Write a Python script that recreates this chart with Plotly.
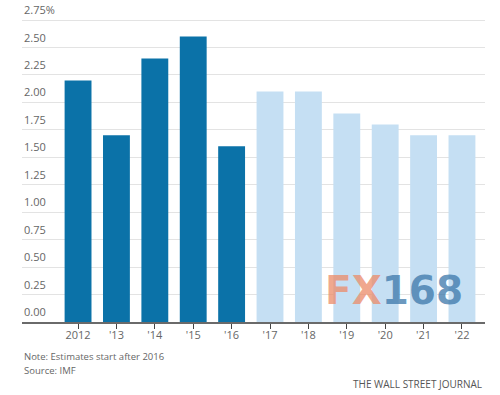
import plotly.graph_objects as go

categories = ["2012", "'13", "'14", "'15", "'16", "'17", "'18", "'19", "'20", "'21", "'22"]
values = [2.2, 1.7, 2.4, 2.6, 1.6, 2.1, 2.1, 1.9, 1.8, 1.7, 1.7]
is_estimate = [False] * 5 + [True] * 6
y_ticks = [0, 0.25, 0.5, 0.75, 1.0, 1.25, 1.5, 1.75, 2.0, 2.25, 2.5, 2.75]
y_tick_labels = ["0.00", "0.25", "0.50", "0.75", "1.00", "1.25", "1.50", "1.75", "2.00", "2.25", "2.50", "2.75%"]

actual_color = "#0b72a8"
estimate_color = "#c5dff3"
colors = [estimate_color if e else actual_color for e in is_estimate]

fig = go.Figure()
fig.add_trace(go.Bar(
    x=list(range(len(categories))), y=values,
    marker=dict(color=colors, line=dict(width=0)),
    hoverinfo="skip",
))

text_color = "#666666"
font_family = "Open Sans, Noto Sans, sans-serif"

top_m, bot_m, H = 19, 73, 395
plot_h = H - top_m - bot_m


def py(pixel_y):
    return (H - bot_m - pixel_y) / plot_h


annotations = []
for v, lab in zip(y_ticks, y_tick_labels):
    annotations.append(dict(
        x=0, xref="paper", y=v, yref="y", text=lab, showarrow=False,
        xanchor="left", yanchor="bottom", yshift=1, xshift=0,
        font=dict(size=11, color=text_color, family=font_family),
    ))

annotations += [
    dict(x=0, xref="paper", y=py(356), yref="paper", text="Note: Estimates start after 2016",
         showarrow=False, xanchor="left", yanchor="middle",
         font=dict(size=9.5, color=text_color, family=font_family)),
    dict(x=0, xref="paper", y=py(370.5), yref="paper", text="Source: IMF",
         showarrow=False, xanchor="left", yanchor="middle",
         font=dict(size=9.5, color=text_color, family=font_family)),
    dict(x=1, xref="paper", xshift=-1, y=py(384), yref="paper", text="THE WALL STREET JOURNAL",
         showarrow=False, xanchor="right", yanchor="middle",
         font=dict(size=10, color="#555555", family=font_family)),
    dict(x=8.23, xref="x", y=py(290.5), yref="paper", showarrow=False,
         text="<b><span style='color:rgba(236,140,105,0.75)'>FX</span>"
              "<span style='color:rgba(60,120,170,0.75)'>168</span></b>",
         font=dict(size=39, family="DejaVu Sans, sans-serif"),
         xanchor="center", yanchor="middle"),
]

fig.update_layout(
    width=500, height=395,
    margin=dict(l=22, r=15, t=top_m, b=bot_m),
    paper_bgcolor="white", plot_bgcolor="white",
    showlegend=False, bargap=0.3,
    annotations=annotations,
    xaxis=dict(
        range=[-1.46, 10.6],
        tickmode="array", tickvals=list(range(len(categories))), ticktext=categories,
        showgrid=False, showline=True, linecolor="#6a6a6a", linewidth=1.5,
        ticks="outside", ticklen=5, tickwidth=1.2, tickcolor="#444444",
        ticklabelstandoff=-3,
        tickfont=dict(size=11, color=text_color, family=font_family),
        zeroline=False, fixedrange=True,
    ),
    yaxis=dict(
        range=[0, 2.76], tickmode="array", tickvals=y_ticks,
        showticklabels=False, showgrid=True, gridcolor="#e3e3e3", gridwidth=1,
        zeroline=False, showline=False, fixedrange=True,
    ),
)

fig.write_html("out.html", config={"displayModeBar": False},
               post_script="document.body.style.margin='0';")
